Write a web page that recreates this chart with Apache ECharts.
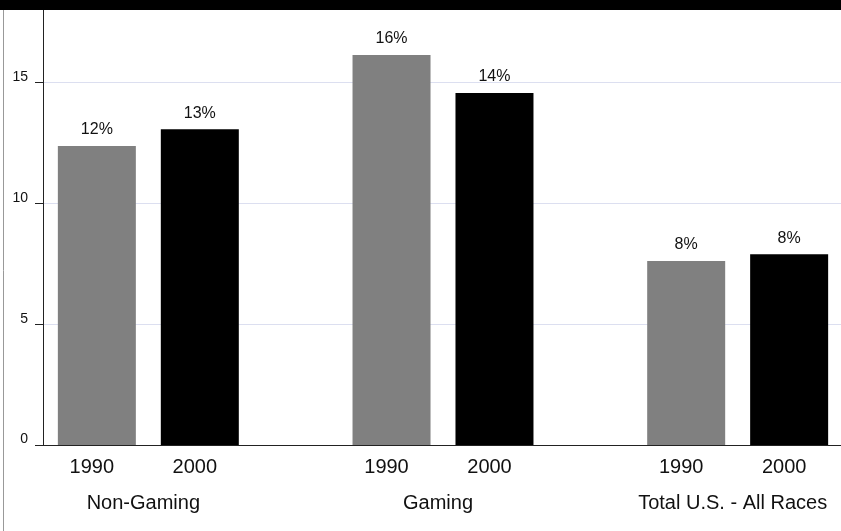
<!DOCTYPE html>
<html>
<head>
<meta charset="utf-8">
<script src="https://cdn.jsdelivr.net/npm/echarts@6/dist/echarts.min.js"></script>
<style>
html,body{margin:0;padding:0;background:#fff;}
#chart{width:841px;height:531px;}
</style>
</head>
<body>
<div id="chart"></div>
<script>
const groups = ['Non-Gaming', 'Gaming', 'Total U.S. - All Races'];
const years = ['1990', '2000'];
const values1990 = [12.37, 16.14, 7.61];
const values2000 = [13.07, 14.57, 7.89];
const labels1990 = ['12%', '16%', '8%'];
const labels2000 = ['13%', '14%', '8%'];
const yMin = 0, yMax = 18, yInterval = 5;

const FONT = '"Liberation Sans", Arial, sans-serif';
const chart = echarts.init(document.getElementById('chart'), null, {renderer: 'canvas'});

function barSeries(name, values, labels, color) {
  return {
    name: name,
    type: 'bar',
    xAxisIndex: 1,
    yAxisIndex: 1,
    data: values,
    barWidth: 78,
    barGap: '32%',
    itemStyle: {color: color},
    label: {
      show: true,
      position: 'top',
      distance: 8,
      fontFamily: FONT,
      fontSize: 16,
      color: '#111',
      formatter: function (p) { return labels[p.dataIndex]; }
    },
    emphasis: {disabled: true}
  };
}

chart.setOption({
  animation: false,
  backgroundColor: '#fff',
  grid: [
    {left: 43, right: 0, top: 10, bottom: 86, outerBoundsMode: 'none', containLabel: false},
    {left: 1, width: 884, top: 10, bottom: 86, outerBoundsMode: 'none', containLabel: false}
  ],
  xAxis: [
    {
      gridIndex: 0, type: 'value', min: 0, max: 1, z: 5,
      axisLine: {show: true, lineStyle: {color: '#222', width: 1}},
      axisTick: {show: false}, axisLabel: {show: false}, splitLine: {show: false}
    },
    {
      gridIndex: 1, type: 'category', data: groups,
      axisLine: {show: false}, axisTick: {show: false},
      axisLabel: {
        interval: 0,
        margin: 4,
        padding: [0, 10, 0, 0],
        fontFamily: FONT,
        color: '#111',
        formatter: function (v) {
          return '{y|' + years[0] + '}{y|' + years[1] + '}\n{g|' + v + '}';
        },
        rich: {
          y: {width: 103, align: 'center', fontSize: 20, lineHeight: 36, fontFamily: FONT, color: '#111'},
          g: {fontSize: 20, lineHeight: 36, fontFamily: FONT, color: '#111'}
        }
      }
    }
  ],
  yAxis: [
    {
      gridIndex: 0, type: 'value', min: yMin, max: yMax, interval: yInterval,
      axisLine: {show: true, lineStyle: {color: '#222', width: 1}},
      axisTick: {show: true, length: 8, lineStyle: {color: '#222'}},
      axisLabel: {show: true, margin: 15, verticalAlign: 'bottom', lineHeight: 11, fontFamily: FONT, fontSize: 14, color: '#111', showMaxLabel: false},
      splitLine: {show: true, showMaxLine: false, lineStyle: {color: '#dcdff0', width: 1}}
    },
    {
      gridIndex: 1, type: 'value', min: yMin, max: yMax, interval: yInterval, show: false,
      splitLine: {show: false}
    }
  ],
  series: [
    barSeries(years[0], values1990, labels1990, '#808080'),
    barSeries(years[1], values2000, labels2000, '#000000')
  ],
  graphic: [
    {type: 'rect', left: 0, top: 0, z: 100, shape: {width: 841, height: 10}, style: {fill: '#000'}},
    {type: 'line', z: 100, shape: {x1: 3.5, y1: 10, x2: 3.5, y2: 531}, style: {stroke: '#999', lineWidth: 1}}
  ]
});
</script>
</body>
</html>
